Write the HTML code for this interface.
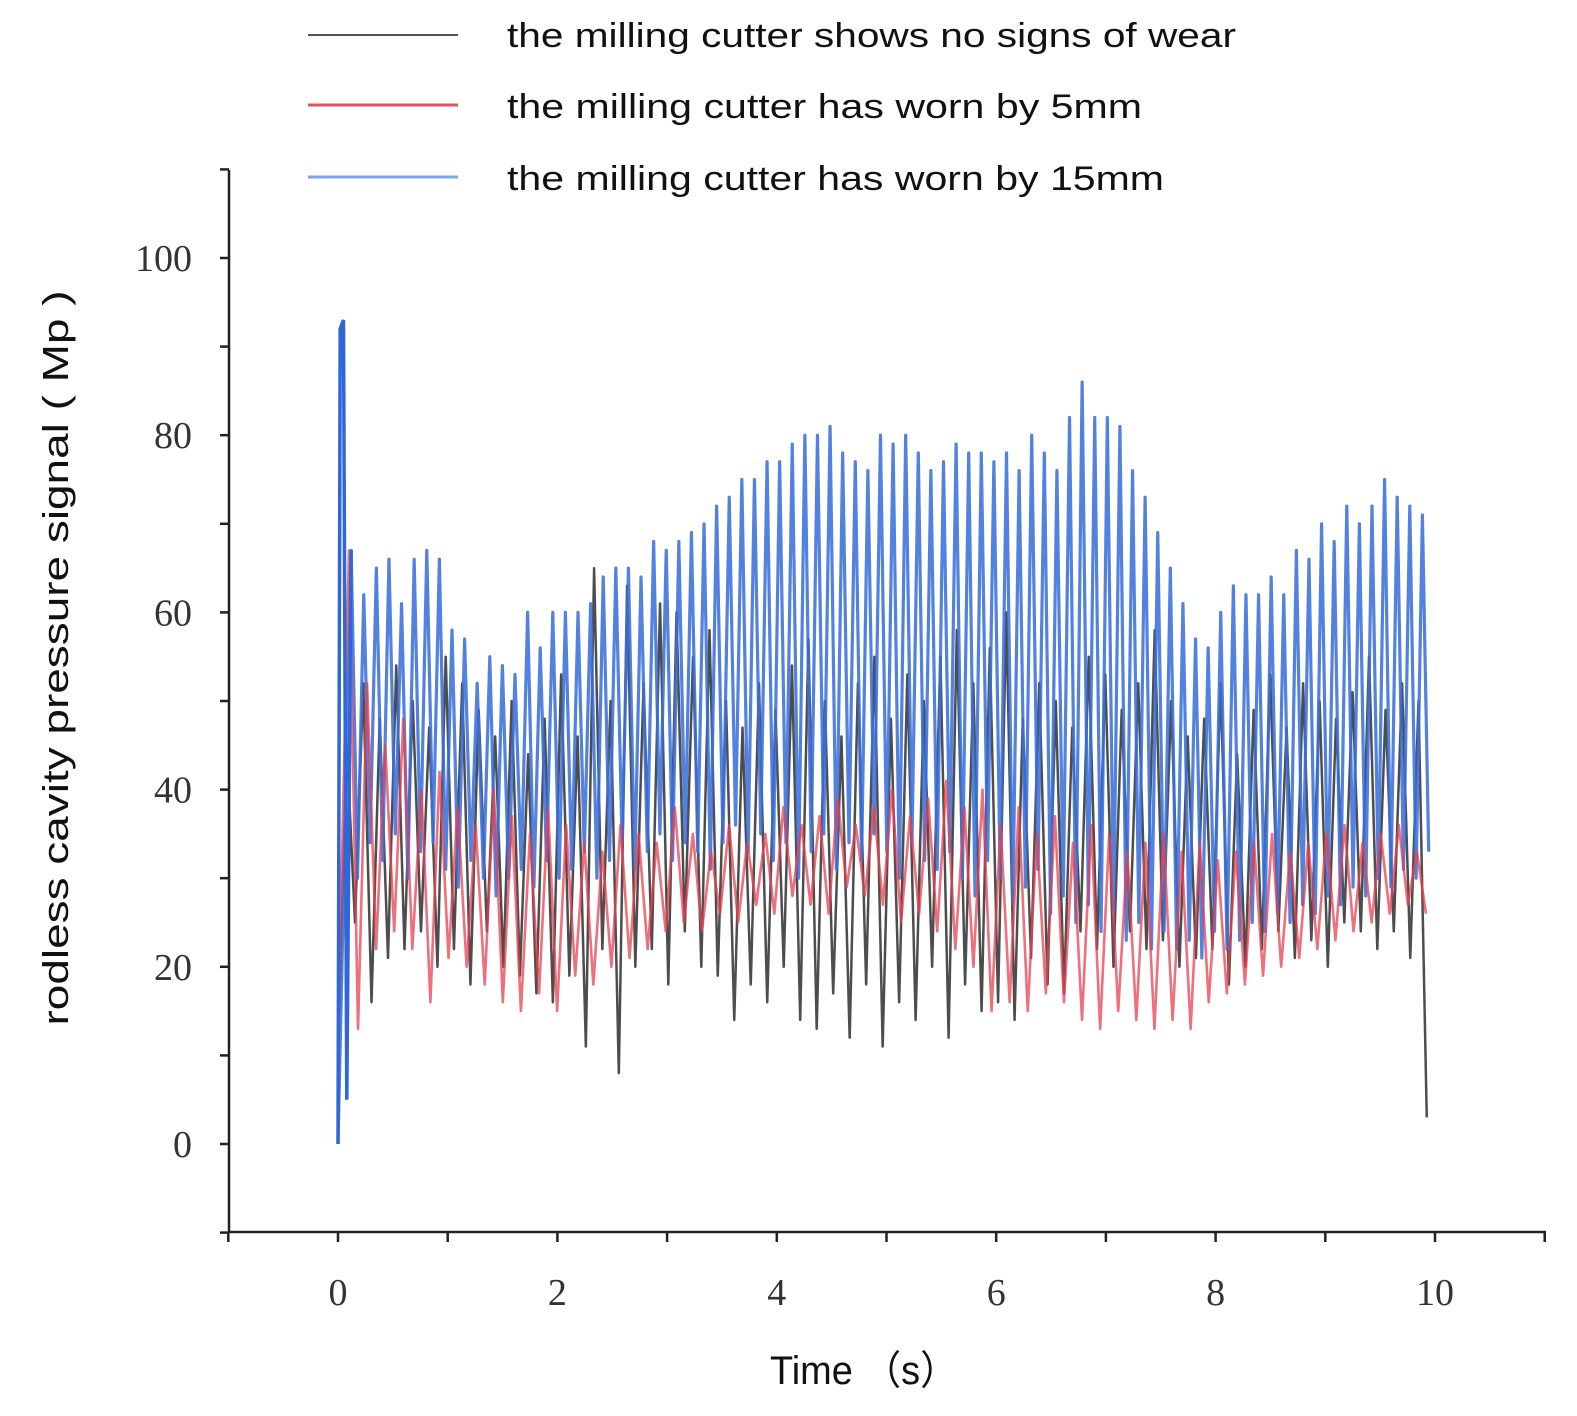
<!DOCTYPE html>
<html><head><meta charset="utf-8">
<style>
html,body{margin:0;padding:0;background:#fff;}
svg{display:block;}
.tick{font-family:"Liberation Serif",serif;font-size:38px;fill:#333;}
.lab{font-family:"Liberation Sans",sans-serif;fill:#111;}
</style></head>
<body>
<svg id="chart" width="1577" height="1416" viewBox="0 0 1577 1416" xmlns="http://www.w3.org/2000/svg">
<g id="legend">
 <line x1="308" y1="35" x2="458" y2="35" stroke="#555" stroke-width="2"/>
 <text class="lab" x="507" y="47" font-size="34" textLength="729" lengthAdjust="spacingAndGlyphs">the milling cutter shows no signs of wear</text>
 <line x1="308" y1="105" x2="458" y2="105" stroke="#e8505a" stroke-width="3"/>
 <text class="lab" x="507" y="118" font-size="34" textLength="635" lengthAdjust="spacingAndGlyphs">the milling cutter has worn by 5mm</text>
 <line x1="308" y1="177" x2="458" y2="177" stroke="#7aa6ee" stroke-width="3"/>
 <text class="lab" x="507" y="190" font-size="34" textLength="657" lengthAdjust="spacingAndGlyphs">the milling cutter has worn by 15mm</text>
</g>
<g id="plot"></g>
<g id="axes"></g>
<text class="lab" font-size="36" transform="translate(68,658) rotate(-90)" text-anchor="middle" textLength="735" lengthAdjust="spacingAndGlyphs">rodless cavity pressure signal ( Mp )</text>
<text class="lab" font-size="40" x="770" y="1384" textLength="188" lengthAdjust="spacingAndGlyphs">Time （s）</text>
</svg>
<script>
const xTicks=[0,2,4,6,8,10];
const yTicks=[0,20,40,60,80,100];
const blackPeaks=[45,52,48,54,50,47,55,52,49,46,50,44,48,53,46,65,50,63,52,61,60,55,58,50,47,52,49,54,57,50,46,52,55,48,53,50,55,58,52,56,60,48,52,50,47,55,53,49,52,58,50,46,48,52,44,49,53,47,52,50,48,51,55,49,52,50];
const blackTroughs=[25,16,21,22,24,20,22,18,24,20,19,17,16,19,11,22,8,20,22,18,24,20,19,14,18,16,20,14,13,17,12,18,11,16,14,20,12,18,15,16,14,21,18,17,24,22,20,24,22,23,20,21,22,18,20,22,24,21,23,20,25,24,22,24,21,3];
const redPeaks=[67,52,45,48,40,42,38,36,40,37,35,38,36,34,33,36,35,34,38,35,33,36,34,35,38,36,37,39,36,38,40,37,39,41,38,40,36,38,35,37,34,36,35,33,34,35,33,34,32,33,34,35,33,34,35,36,34,35,36,33];
const redTroughs=[13,22,24,22,16,21,20,18,16,15,17,15,19,18,20,21,22,24,25,24,26,25,27,26,28,27,26,29,28,27,25,26,24,22,20,15,16,15,17,16,14,13,15,14,13,14,13,16,17,18,19,20,21,22,23,24,25,26,27,26];
const bluePeaks=[67,62,65,66,61,66,67,66,58,57,52,55,54,53,60,56,60,60,60,61,64,65,65,64,68,67,68,69,70,72,73,75,75,77,77,79,80,80,81,78,77,76,80,79,80,78,76,77,79,78,78,77,78,76,80,78,76,82,86,82,82,81,76,73,69,65,61,57,56,60,63,62,62,64,62,67,66,70,68,72,70,72,75,73,72,71];
const blueTroughs=[30,34,32,35,30,33,34,31,29,32,30,28,30,31,29,32,30,31,33,30,32,34,31,33,35,32,34,33,31,34,36,33,35,32,34,30,33,35,31,34,32,35,33,30,34,32,31,33,30,28,32,30,27,29,31,26,28,25,27,24,26,23,25,22,24,22,23,21,24,22,23,25,24,26,25,27,26,28,27,29,28,30,29,31,30,33];
const X0=338,PXX=109.7,Y0=1144,PXY=8.86;
const xs=v=>X0+v*PXX, ys=v=>Y0-v*PXY;
const NS="http://www.w3.org/2000/svg";
const plot=document.getElementById('plot'), axes=document.getElementById('axes');
function series(peaks,troughs,t0,startV,color,w,op,name){
  const n=peaks.length, dt=(10-t0)/n;
  let d=`M${xs(0)},${ys(startV)}`;
  for(let i=0;i<n;i++){
    d+=` L${xs(t0+i*dt)},${ys(peaks[i])} L${xs(t0+(i+0.5)*dt)},${ys(troughs[i])}`;
  }
  const p=document.createElementNS(NS,'path');
  p.setAttribute('d',d);p.setAttribute('fill','none');p.setAttribute('stroke',color);
  p.setAttribute('stroke-width',w);p.setAttribute('opacity',op);p.setAttribute('stroke-linejoin','round');
  
  
  plot.appendChild(p);
}
series(blackPeaks,blackTroughs,0.08,10,'#3a3a3a',2.5,0.9,'series-no-wear');
series(bluePeaks,blueTroughs,0.12,0,'#3a70dc',3.2,0.88,'series-15mm');
series(redPeaks,redTroughs,0.1,12,'#e84050',2.6,0.75,'series-5mm');
const sp=document.createElementNS(NS,'path');
sp.setAttribute('d',`M${xs(0)},${ys(0)} L${xs(0.02)},${ys(92)} L${xs(0.05)},${ys(93)} L${xs(0.08)},${ys(5)} L${xs(0.12)},${ys(67)}`);
sp.setAttribute('fill','none');sp.setAttribute('stroke','#2f66d8');sp.setAttribute('stroke-width','3.5');


plot.appendChild(sp);
function ln(x1,y1,x2,y2,name){
  const l=document.createElementNS(NS,'line');
  l.setAttribute('x1',x1);l.setAttribute('y1',y1);l.setAttribute('x2',x2);l.setAttribute('y2',y2);
  l.setAttribute('stroke','#222');l.setAttribute('stroke-width','2.5');
  
  
  axes.appendChild(l);
}
ln(229,170,229,1233,'y-axis-line');
ln(228,1232,1546,1232,'x-axis-line');
for(let v=-10;v<=110;v+=10){ln(220,ys(v),229,ys(v),'y-tick');}
for(let v=-1;v<=11;v+=1){const x=xs(v);if(x<228||x>1547)continue;ln(x,1232,x,1242,'x-tick');}
yTicks.forEach(v=>{
  const t=document.createElementNS(NS,'text');
  t.setAttribute('x',192);t.setAttribute('y',ys(v)+13);t.setAttribute('text-anchor','end');t.setAttribute('class','tick');
  t.textContent=v;
  
  
  axes.appendChild(t);
});
xTicks.forEach(v=>{
  const t=document.createElementNS(NS,'text');
  t.setAttribute('x',xs(v));t.setAttribute('y',1305);t.setAttribute('text-anchor','middle');t.setAttribute('class','tick');
  t.textContent=v;
  
  
  axes.appendChild(t);
});
</script>
</body></html>
